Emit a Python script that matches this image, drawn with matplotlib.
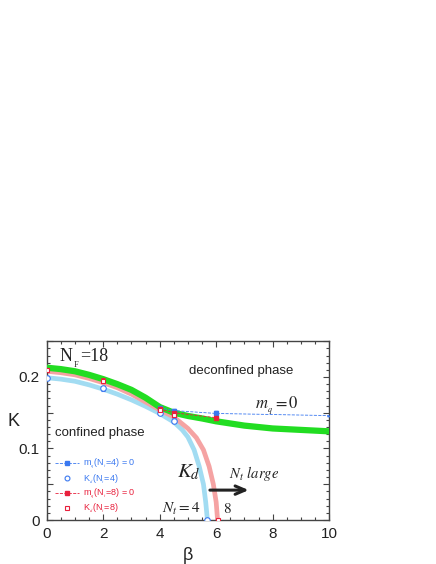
import matplotlib
matplotlib.use('Agg')
import matplotlib.pyplot as plt
from matplotlib.lines import Line2D
from matplotlib.ticker import MultipleLocator, FuncFormatter

plt.rcParams['font.family'] = ['Liberation Sans', 'DejaVu Sans']
plt.rcParams['mathtext.fontset'] = 'stix'

# phase boundary curves
beta_green = [0, 0.5, 1, 1.5, 2, 2.5, 3, 3.5, 4, 4.5, 5, 5.5, 6, 7, 8, 9, 10]
K_green = [0.213, 0.211, 0.208, 0.203, 0.197, 0.190, 0.182, 0.171, 0.158, 0.150,
           0.1455, 0.142, 0.138, 0.132, 0.128, 0.126, 0.124]

beta_nt8 = [0, 0.5, 1, 1.5, 2, 2.5, 3, 3.5, 4, 4.5, 5, 5.3, 5.55, 5.75, 5.9, 6.0, 6.05]
K_nt8 = [0.208, 0.206, 0.203, 0.198, 0.192, 0.185, 0.176, 0.165, 0.154, 0.144,
         0.128, 0.115, 0.098, 0.075, 0.050, 0.025, 0.0]

beta_nt4 = [0, 0.5, 1, 1.5, 2, 2.5, 3, 3.5, 4, 4.5, 4.8, 5.0, 5.22, 5.4, 5.55, 5.63, 5.69]
K_nt4 = [0.199, 0.197, 0.194, 0.189, 0.183, 0.176, 0.168, 0.159, 0.149, 0.137,
         0.126, 0.116, 0.098, 0.075, 0.050, 0.025, 0.0]

# data points
kd4_beta = [0, 2, 4, 4.5, 5.67]
kd4_K = [0.199, 0.184, 0.150, 0.139, 0.0]
kd4_err = [0.002, 0.004, 0.002, 0.003, 0.0]

kd8_beta = [0, 2, 4, 4.5, 6.05]
kd8_K = [0.210, 0.195, 0.154, 0.147, 0.0]
kd8_err = [0.002, 0.004, 0.002, 0.003, 0.0]

mq4_beta = [4, 4.5, 6, 10]
mq4_K = [0.157, 0.153, 0.149, 0.146]
mq4_err = [0.002, 0.002, 0.003, 0.0]

mq8_beta = [4, 4.5, 6]
mq8_K = [0.155, 0.150, 0.143]
mq8_err = [0.002, 0.002, 0.002]

BLUE = '#3a78f0'
RED = '#e8203c'
PINK = '#f5a3a3'
CYAN = '#a2dcf2'
GREEN = '#22dd22'
INK = '#222222'

fig = plt.figure(figsize=(4.36, 5.64), dpi=100)
ax = fig.add_axes([0.107, 0.078, 0.648, 0.317])

ax.plot(beta_nt4, K_nt4, color=CYAN, lw=3.4, zorder=2)
ax.plot(beta_nt8, K_nt8, color=PINK, lw=3.4, zorder=2)
ax.plot(beta_green, K_green, color=GREEN, lw=4.5, zorder=3)

ax.errorbar(mq4_beta, mq4_K, yerr=mq4_err, color=BLUE, ls='--', lw=0.6, marker='s',
            ms=3, markevery=[0, 1, 2], capsize=1.2, elinewidth=0.6, zorder=4)
ax.errorbar(mq8_beta, mq8_K, yerr=mq8_err, color=RED, ls='--', lw=0.6, marker='s',
            ms=3, capsize=1.2, elinewidth=0.6, zorder=4)
ax.errorbar(kd4_beta, kd4_K, yerr=kd4_err, color=BLUE, ls='none', marker='o', ms=4,
            mfc='white', mew=0.8, capsize=1.2, elinewidth=0.6, zorder=5)
ax.errorbar(kd8_beta, kd8_K, yerr=kd8_err, color=RED, ls='none', marker='s', ms=3.2,
            mfc='white', mew=0.8, capsize=1.2, elinewidth=0.6, zorder=5)

ax.set_xlim(0, 10)
ax.set_ylim(0, 0.25)
ax.xaxis.set_major_locator(MultipleLocator(2))
ax.xaxis.set_minor_locator(MultipleLocator(0.5))
ax.yaxis.set_major_locator(MultipleLocator(0.05))
ax.yaxis.set_minor_locator(MultipleLocator(0.01))
ax.yaxis.set_major_formatter(FuncFormatter(
    lambda v, p: '' if abs(round(v * 20) % 2) == 1 else ('0' if abs(v) < 1e-9 else f'{v:.1f}')))
ax.tick_params(which='both', direction='in', top=True, right=True, colors='#444444',
               labelcolor=INK, labelsize=11, width=0.8)
ax.tick_params(which='major', length=4, pad=5)
ax.tick_params(which='minor', length=2)
for sp in ax.spines.values():
    sp.set_color('#444444')
    sp.set_linewidth(1.0)

ax.set_xlabel('β', fontsize=13, color=INK, labelpad=4)
fig.text(13 / 436, 1 - 421 / 564, 'K', fontsize=13, color=INK, ha='center', va='center')

# N_F=18 built from plain serif pieces
serif = ['Liberation Serif', 'DejaVu Serif']
ax.text(0.47, 0.2287, 'N', fontsize=13, family=serif, va='center', color=INK)
ax.text(0.95, 0.2165, 'F', fontsize=6, family=serif, va='center', color=INK)
ax.text(1.17, 0.2287, '=18', fontsize=13, family=serif, va='center', color=INK)

ax.text(6.9, 0.2078, 'deconfined phase', fontsize=9.5, va='center', ha='center', color=INK)
ax.text(0.3, 0.121, 'confined phase', fontsize=9.5, va='center', color=INK)
ax.text(8.15, 0.160, r'$m_{_q} = 0$', fontsize=12, va='center', ha='center', color=INK)
ax.text(4.6, 0.067, r'$K_d$', fontsize=15, va='center', color=INK)
ax.text(6.45, 0.065, r'$N_t$ $large$', fontsize=10.5, va='center', color=INK)
ax.text(4.1, 0.015, r'$N_t = 4$', fontsize=11, va='center', color=INK)
ax.text(6.25, 0.015, r'$8$', fontsize=11, va='center', color=INK)

ax.annotate('', xy=(7.25, 0.0418), xytext=(5.68, 0.0418),
            arrowprops=dict(arrowstyle='->,head_length=0.7,head_width=0.3',
                            color=INK, lw=2.2))

handles = [
    Line2D([], [], color=BLUE, ls='--', lw=0.6, marker='s', ms=2.5),
    Line2D([], [], color=BLUE, ls='none', marker='o', ms=3.5, mfc='white', mew=0.8),
    Line2D([], [], color=RED, ls='--', lw=0.6, marker='s', ms=3),
    Line2D([], [], color=RED, ls='none', marker='s', ms=2.8, mfc='white', mew=0.8),
]
labels = [r'm$_{_q}$(N$_{_t}$=4) = 0', r'K$_{_d}$(N$_{_t}$=4)',
          r'm$_{_q}$(N$_{_t}$=8) = 0', r'K$_{_d}$(N$_{_t}$=8)']
leg = ax.legend(handles, labels, loc='lower left', bbox_to_anchor=(0.0, -0.02),
                frameon=False, fontsize=6.5, handlelength=2.7, handletextpad=0.4,
                labelspacing=0.15)
for t, c in zip(leg.get_texts(), [BLUE, BLUE, RED, RED]):
    t.set_color(c)

fig.savefig('out.png', dpi=100)
